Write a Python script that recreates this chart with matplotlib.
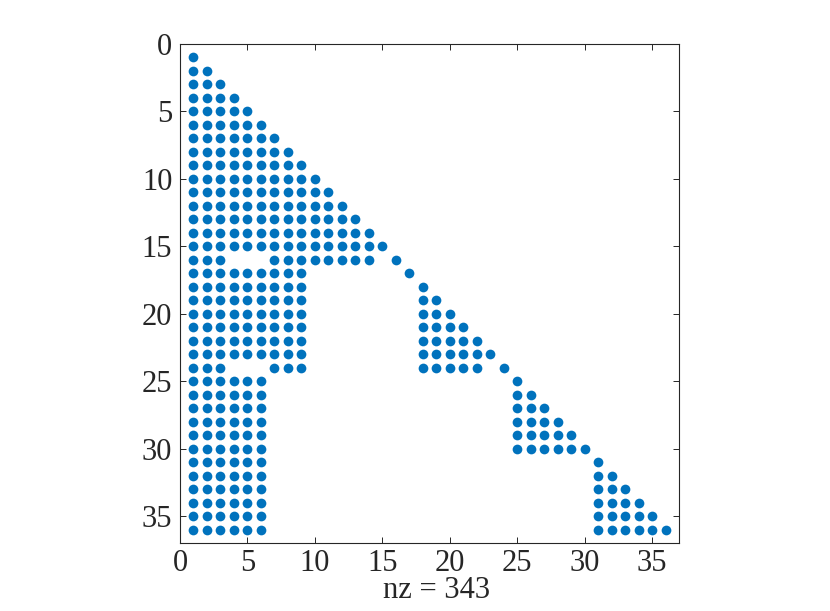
import numpy as np
import matplotlib
matplotlib.use("Agg")
import matplotlib.pyplot as plt

plt.rcParams['font.family'] = ['Liberation Serif', 'DejaVu Serif']

# nonzero column ranges per row (1-based, inclusive)
n = 36
row_cols = {}
for r in range(1, 16):
    row_cols[r] = list(range(1, r + 1))
row_cols[16] = [1, 2, 3] + list(range(7, 15)) + [16]
row_cols[17] = list(range(1, 10)) + [17]
for r in range(18, 24):
    row_cols[r] = list(range(1, 10)) + list(range(18, r + 1))
row_cols[24] = [1, 2, 3, 7, 8, 9] + list(range(18, 23)) + [24]
for r in range(25, 31):
    row_cols[r] = list(range(1, 7)) + list(range(25, r + 1))
for r in range(31, 37):
    row_cols[r] = list(range(1, 7)) + list(range(31, r + 1))

rows = []
cols = []
for r in range(1, n + 1):
    for c in row_cols[r]:
        rows.append(r)
        cols.append(c)
rows = np.array(rows)
cols = np.array(cols)

fig = plt.figure(figsize=(8.3, 6.11), dpi=100)
ax = fig.add_axes([180 / 830, 1 - 543 / 611, 499 / 830, 499 / 611])

ax.plot(cols, rows, 'o', color='#0072BD', markersize=7, markeredgewidth=0)

ax.set_xlim(0, n + 1)
ax.set_ylim(n + 1, 0)
ax.set_xticks([0, 5, 10, 15, 20, 25, 30, 35])
ax.set_yticks([0, 5, 10, 15, 20, 25, 30, 35])
ax.tick_params(direction='in', length=4, width=0.7, top=True, right=True,
               labelsize=22, colors='#262626')
ax.tick_params(axis='x', pad=4.0)
ax.tick_params(axis='y', pad=5.5)
for s in ax.spines.values():
    s.set_linewidth(0.8)
    s.set_color('#262626')

# xlabel sits close under the tick labels, like MATLAB's spy
fig.text(437 / 830, 1 - 598.5 / 611, 'nz = ' + str(len(rows)), fontsize=22,
         color='#262626', ha='center', va='baseline')

fig.savefig("out.png", dpi=100)
